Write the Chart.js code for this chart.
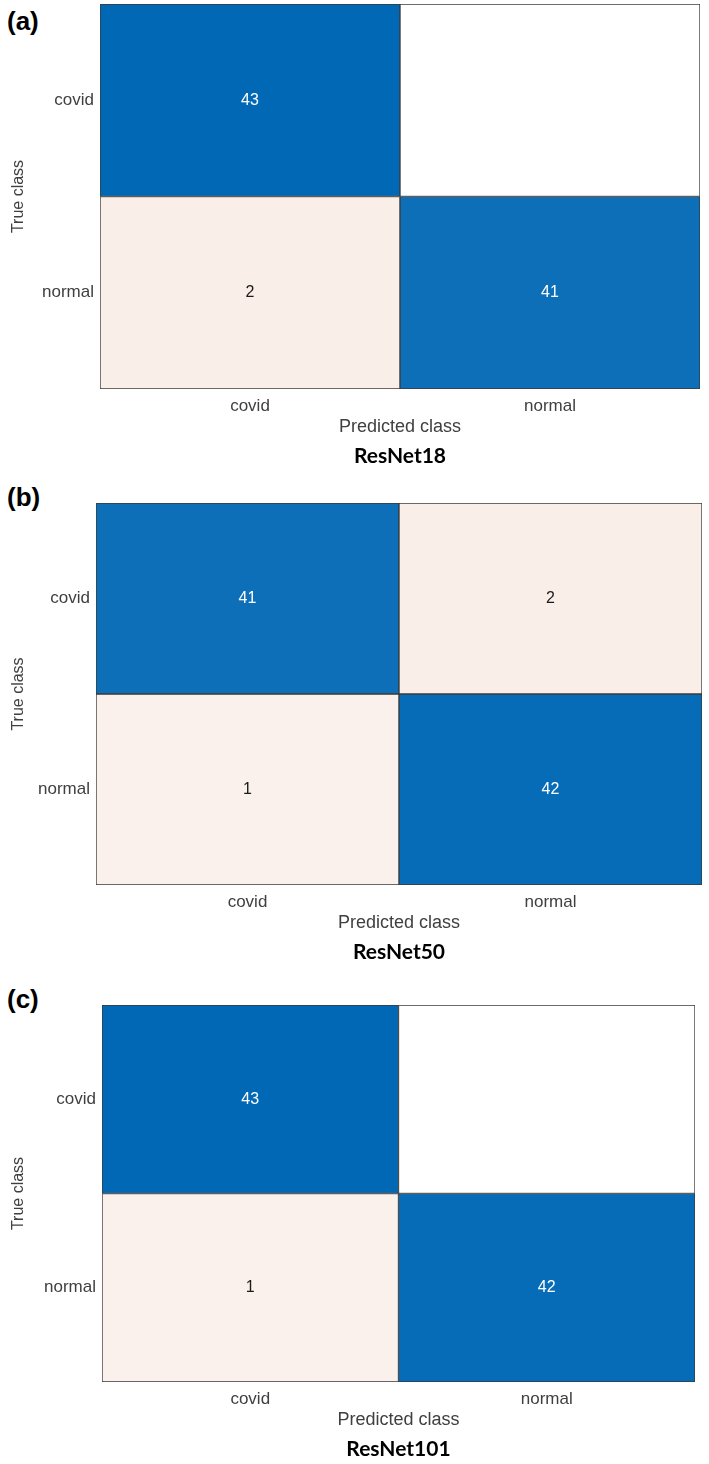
<!DOCTYPE html>
<html>
<head>
<meta charset="utf-8">
<script src="https://cdn.jsdelivr.net/npm/chart.js@4.4.1/dist/chart.umd.min.js"></script>
<style>
  body { margin: 0; background: #fff; width: 709px; height: 1464px; position: relative; overflow: hidden; }
  canvas { position: absolute; left: 0; }
  .tag { position: absolute; left: 7px; font: bold 26px "Liberation Sans", Arial, sans-serif; line-height: 26px; color: #000; }
</style>
</head>
<body>
<script>
const classNames = ["covid", "normal"];
const panelTags = ["(a)", "(b)", "(c)"];
const modelNames = ["ResNet18", "ResNet50", "ResNet101"];

// rows = true class, columns = predicted class
const cmResNet18 = [[43, 0], [2, 41]];
const cmResNet50 = [[41, 2], [1, 42]];
const cmResNet101 = [[43, 0], [1, 42]];
const matrices = [cmResNet18, cmResNet50, cmResNet101];

// where each plot box sits on the page
const boxes = [
	{ top: 4, left: 100, right: 700, height: 385, tagTop: 8 },
	{ top: 503, left: 96, right: 702, height: 382, tagTop: 484 },
	{ top: 1005, left: 102, right: 695, height: 377, tagTop: 986 },
];

const FONT = '"Liberation Sans", Arial, sans-serif';
const maxCount = Math.max(...matrices.flat(2));

const mix = (a, b, t) => {
	const pa = [1, 3, 5].map((i) => parseInt(a.substr(i, 2), 16));
	const pb = [1, 3, 5].map((i) => parseInt(b.substr(i, 2), 16));
	return "rgb(" + pa.map((v, i) => Math.round(v + (pb[i] - v) * t)).join(",") + ")";
};

const cellColor = (v, diag) => {
	if (v === 0) return "#ffffff";
	if (diag) return mix("#ffffff", "#0068b5", v / maxCount);
	return mix("#ffffff", "#e3a88a", 0.12 + 0.04 * v);
};

// count written in the middle of each cell
const cellText = {
	id: "cellText",
	afterDatasetsDraw(chart) {
		const ctx = chart.ctx;
		ctx.save();
		ctx.font = "16px " + FONT;
		ctx.textAlign = "center";
		ctx.textBaseline = "middle";
		chart.data.datasets.forEach((ds, r) => {
			chart.getDatasetMeta(r).data.forEach((bar, c) => {
				const v = ds.counts[c];
				if (!v) return;
				const p = bar.getCenterPoint();
				ctx.fillStyle = r === c ? "#ffffff" : "#1a1a1a";
				ctx.fillText(String(v), p.x, p.y);
			});
		});
		ctx.restore();
	},
};

matrices.forEach((cm, i) => {
	const b = boxes[i];

	const tag = document.createElement("div");
	tag.className = "tag";
	tag.style.top = b.tagTop + "px";
	tag.textContent = panelTags[i];
	document.body.appendChild(tag);

	const fixed = 4 + 50 + 5 + 21 * 1.2;
	const canvasH = Math.ceil(fixed + b.height);
	const canvas = document.createElement("canvas");
	canvas.width = 709;
	canvas.height = canvasH;
	canvas.style.top = b.top - 4 + "px";
	document.body.appendChild(canvas);

	new Chart(canvas, {
		type: "bar",
		data: {
			labels: classNames,
			datasets: classNames.map((trueName, r) => ({
				label: trueName,
				counts: cm[r],
				data: cm[r].map(() => [r, r + 1]),
				backgroundColor: cm[r].map((v, c) => cellColor(v, r === c)),
				borderColor: "#3a3a3a",
				borderWidth: 1,
				borderSkipped: false,
				barPercentage: 1,
				categoryPercentage: 1,
				grouped: false,
			})),
		},
		options: {
			responsive: false,
			animation: false,
			events: [],
			layout: {
				padding: { top: 4, left: 0, right: 709 - b.right, bottom: canvasH - fixed - b.height },
			},
			plugins: {
				legend: { display: false },
				tooltip: { enabled: false },
				title: {
					display: true,
					position: "bottom",
					fullSize: false,
					text: modelNames[i],
					color: "#000",
					font: { family: "Lato", weight: "bold", size: 21 },
					padding: { top: 5, bottom: 0 },
				},
			},
			scales: {
				x: {
					type: "category",
					offset: true,
					grid: { display: false, drawTicks: false },
					border: { display: false },
					ticks: { color: "#404040", font: { family: FONT, size: 17 }, padding: 7, maxRotation: 0, autoSkip: false },
					title: {
						display: true,
						text: "Predicted class",
						color: "#404040",
						font: { family: FONT, size: 18 },
						padding: { top: 0, bottom: 1 },
					},
					afterFit: (s) => {
						s.height = 50;
						s.paddingLeft = 0;
						s.paddingRight = 0;
					},
				},
				y: {
					type: "linear",
					min: 0,
					max: 2,
					reverse: true,
					grid: { display: false, drawTicks: false },
					border: { display: false },
					afterBuildTicks: (s) => {
						s.ticks = [{ value: 0.5 }, { value: 1.5 }];
					},
					ticks: {
						color: "#404040",
						font: { family: FONT, size: 17 },
						padding: 6,
						autoSkip: false,
						callback: (v) => classNames[Math.floor(v)],
					},
					title: {
						display: true,
						text: "True class",
						color: "#404040",
						font: { family: FONT, size: 16 },
						padding: { top: 9, bottom: 0 },
					},
					afterFit: (s) => {
						s.width = b.left;
						s.paddingTop = 0;
						s.paddingBottom = 0;
					},
				},
			},
		},
		plugins: [cellText],
	});
});
</script>
</body>
</html>
